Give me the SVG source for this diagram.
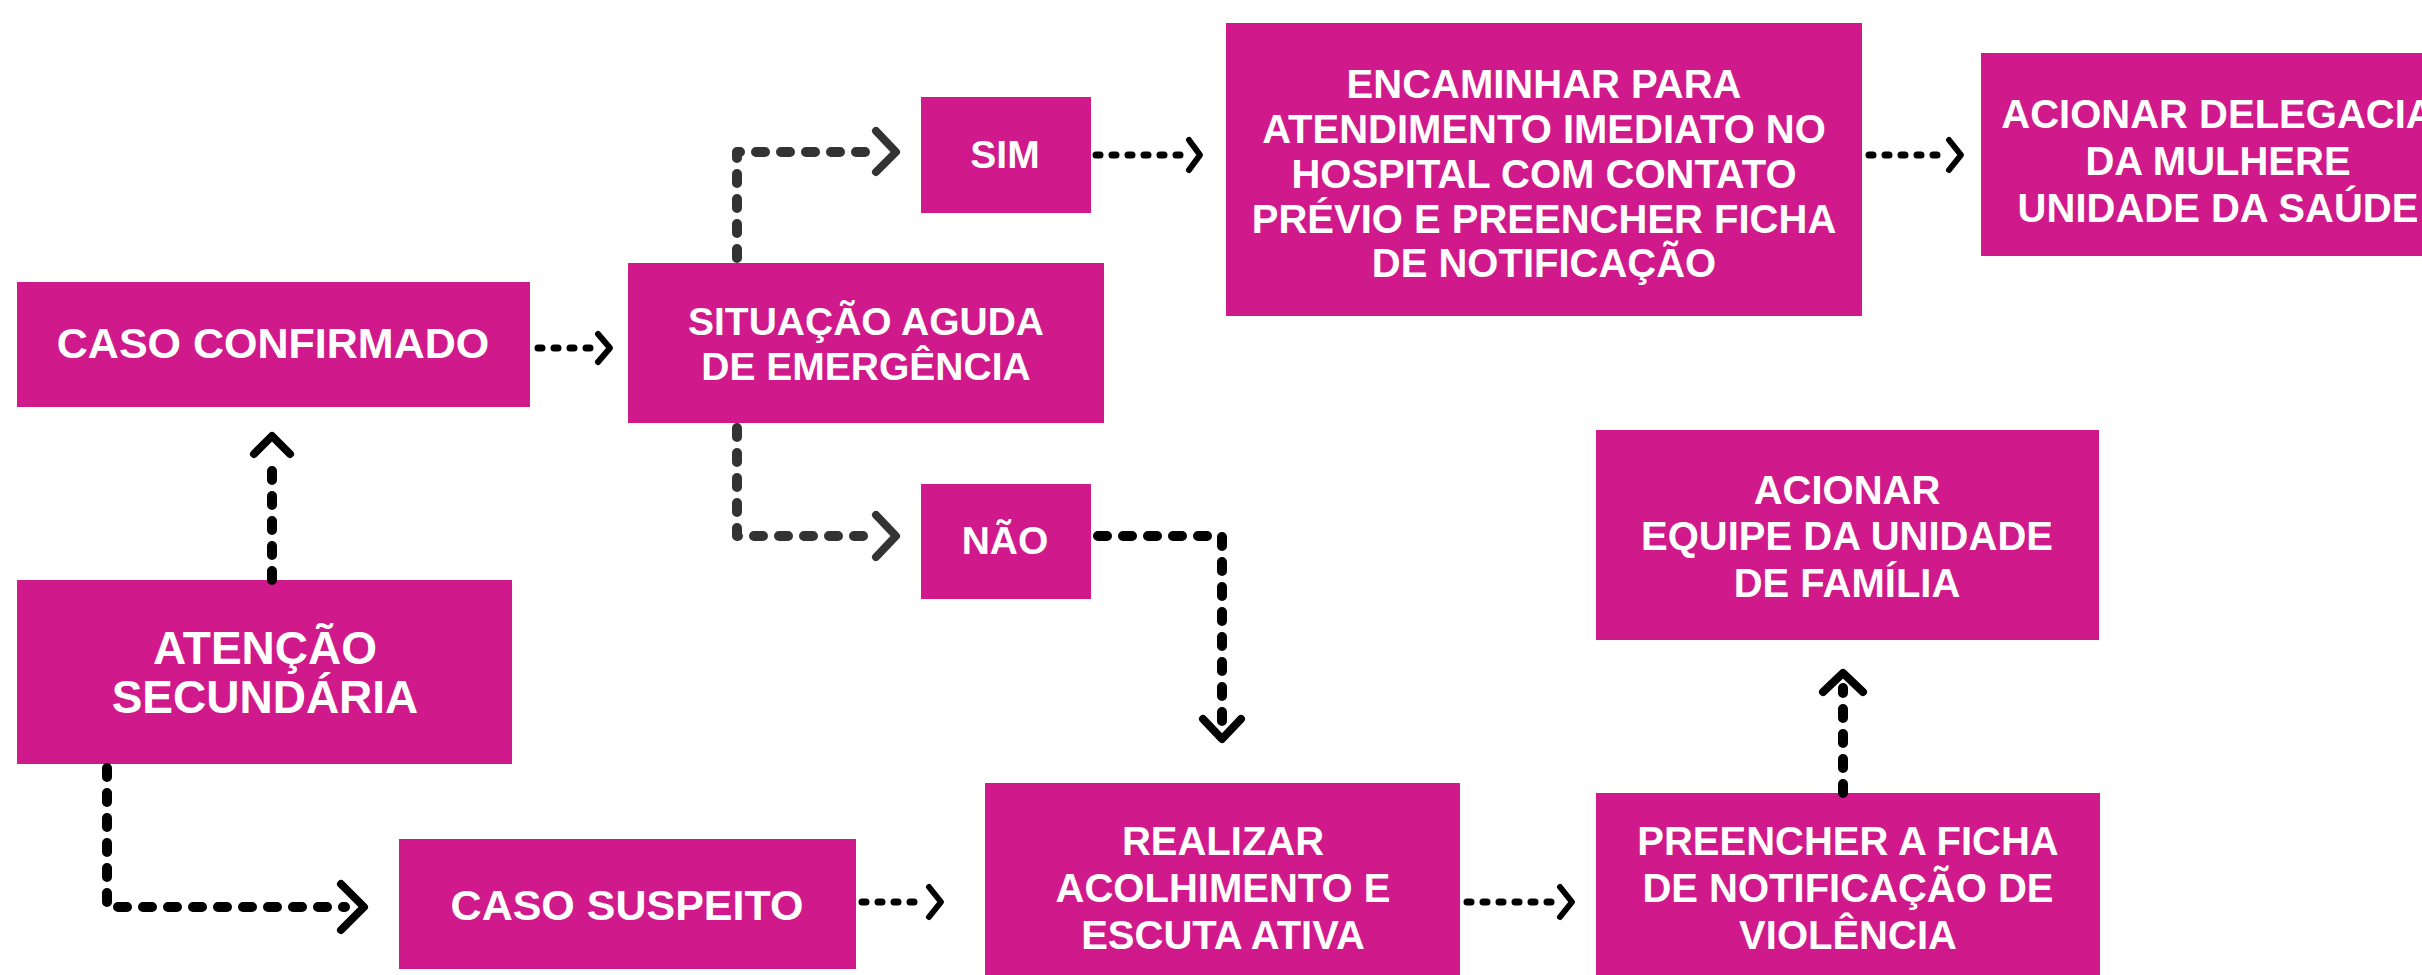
<svg xmlns="http://www.w3.org/2000/svg" width="2422" height="975" viewBox="0 0 2422 975">
<style>
.box{fill:#D0198A}
.t{fill:#FFFFFF;font-family:"Liberation Sans",Arial,sans-serif;font-weight:bold;text-anchor:middle}
.s39{font-size:39px}
.s40{font-size:40px}
.s43{font-size:43px}
.s45{font-size:46px}
.ln{fill:none;stroke:#000;stroke-width:10;stroke-linecap:round;stroke-linejoin:round;stroke-dasharray:9 16}
.sm{stroke-width:7;stroke-dasharray:4 12}
.lg{stroke:#333333}
.hd{fill:none;stroke:#000;stroke-width:8;stroke-linecap:round;stroke-linejoin:round}
.hs{stroke-width:6}
.hg{stroke:#333333}
</style>
<rect width="2422" height="975" fill="#FFFFFF"/>
<g id="caso-confirmado"><rect class="box" x="17" y="282" width="513" height="125"/><text class="t s43" x="273" y="358">CASO CONFIRMADO</text></g>
<g id="situacao-aguda"><rect class="box" x="628" y="263" width="476" height="160"/><text class="t s39" x="866" y="335">SITUAÇÃO AGUDA</text><text class="t s39" x="866" y="380">DE EMERGÊNCIA</text></g>
<g id="sim"><rect class="box" x="921" y="97" width="170" height="116"/><text class="t s39" x="1005" y="168">SIM</text></g>
<g id="nao"><rect class="box" x="921" y="484" width="170" height="115"/><text class="t s39" x="1005" y="554">NÃO</text></g>
<g id="encaminhar"><rect class="box" x="1226" y="23" width="636" height="293"/>
<text class="t s40" x="1544" y="98">ENCAMINHAR PARA</text>
<text class="t s40" x="1544" y="143">ATENDIMENTO IMEDIATO NO</text>
<text class="t s40" x="1544" y="188">HOSPITAL COM CONTATO</text>
<text class="t s40" x="1544" y="233">PRÉVIO E PREENCHER FICHA</text>
<text class="t s40" x="1544" y="277">DE NOTIFICAÇÃO</text></g>
<g id="delegacia"><rect class="box" x="1981" y="53" width="480" height="203"/>
<text class="t s40" x="2218" y="128">ACIONAR DELEGACIA</text>
<text class="t s40" x="2218" y="175">DA MULHERE</text>
<text class="t s40" x="2218" y="222">UNIDADE DA SAÚDE</text></g>
<g id="atencao-secundaria"><rect class="box" x="17" y="580" width="495" height="184"/>
<text class="t s45" x="265" y="664">ATENÇÃO</text>
<text class="t s45" x="265" y="713">SECUNDÁRIA</text></g>
<g id="caso-suspeito"><rect class="box" x="399" y="839" width="457" height="130"/><text class="t s43" x="627" y="920">CASO SUSPEITO</text></g>
<g id="realizar"><rect class="box" x="985" y="783" width="475" height="200"/>
<text class="t s40" x="1223" y="855">REALIZAR</text>
<text class="t s40" x="1223" y="902">ACOLHIMENTO E</text>
<text class="t s40" x="1223" y="949">ESCUTA ATIVA</text></g>
<g id="preencher"><rect class="box" x="1596" y="793" width="504" height="190"/>
<text class="t s40" x="1848" y="855">PREENCHER A FICHA</text>
<text class="t s40" x="1848" y="902">DE NOTIFICAÇÃO DE</text>
<text class="t s40" x="1848" y="949">VIOLÊNCIA</text></g>
<g id="equipe"><rect class="box" x="1596" y="430" width="503" height="210"/>
<text class="t s40" x="1847" y="504">ACIONAR</text>
<text class="t s40" x="1847" y="550">EQUIPE DA UNIDADE</text>
<text class="t s40" x="1847" y="597">DE FAMÍLIA</text></g>
<g id="connectors">
<path class="ln sm" d="M538 348 H594"/><polyline class="hd hs" points="598,334 610,348 598,362"/>
<path class="ln lg" d="M737 258 V152 H866"/><polyline class="hd hg" points="876,131 896,152 876,172"/>
<path class="ln lg" d="M737 428 V536 H866"/><polyline class="hd hg" points="876,515 896,536 876,557"/>
<path class="ln sm" d="M1096 155 H1186"/><polyline class="hd hs" points="1189,140 1200,155 1189,170"/>
<path class="ln sm" d="M1869 155 H1943"/><polyline class="hd hs" points="1949,140 1961,155 1949,170"/>
<path class="ln" d="M1098 536 H1222 V728"/><polyline class="hd" points="1203,719 1222,739 1241,719"/>
<path class="ln" d="M272 580 V462"/><polyline class="hd" points="254,454 272,436 290,454"/>
<path class="ln" d="M107 768 V907 H345"/><polyline class="hd" points="341,884 364,907 341,930"/>
<path class="ln sm" d="M862 902 H924"/><polyline class="hd hs" points="929,887 941,902 929,917"/>
<path class="ln sm" d="M1467 902 H1556"/><polyline class="hd hs" points="1560,887 1572,902 1560,917"/>
<path class="ln" d="M1843 793 V688"/><polyline class="hd" points="1823,692 1843,673 1863,692"/>
</g>
</svg>
